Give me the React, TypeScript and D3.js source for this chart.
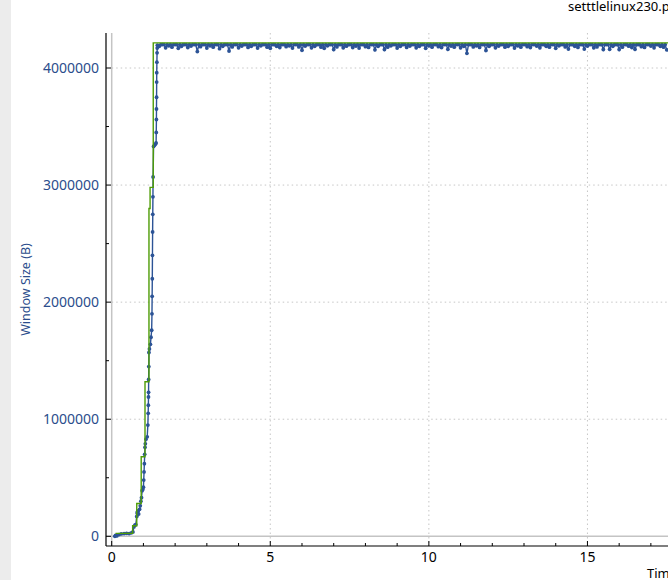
import React from "react";
import * as d3 from "d3";

// ---- data ----
const title = "setttlelinux230.pcapng";
const xLabel = "Time (s)";
const yLabel = "Window Size (B)";
const xTicksMajor = [0, 5, 10, 15];
const yTicksMajor = [0, 1000000, 2000000, 3000000, 4000000];

// bytes-out (blue) ramp phase
const rampTimes = [
  0.10, 0.12, 0.16, 0.23, 0.30, 0.39, 0.47, 0.55, 0.62, 0.67, 0.70, 0.73, 0.76, 0.79, 0.80, 0.82,
  0.85, 0.88, 0.90, 0.92, 0.94, 0.96, 0.98, 1.00, 1.01, 1.02, 1.03, 1.04, 1.05, 1.06, 1.08, 1.12,
  1.14, 1.15, 1.155, 1.16, 1.162, 1.165, 1.17, 1.175, 1.19, 1.22, 1.24, 1.26, 1.27, 1.275, 1.28,
  1.285, 1.29, 1.295, 1.30, 1.305, 1.32, 1.35, 1.38, 1.40, 1.405, 1.41, 1.412, 1.415, 1.418, 1.42,
  1.425, 1.43, 1.435, 1.44,
];
const rampValues = [
  0, 8000, 3000, 15000, 20000, 23000, 25000, 23000, 30000, 37000, 80000, 95000, 100000, 170000,
  200000, 215000, 190000, 230000, 260000, 300000, 330000, 390000, 400000, 420000, 480000, 550000,
  620000, 700000, 760000, 790000, 830000, 850000, 950000, 1050000, 1120000, 1190000, 1230000,
  1340000, 1450000, 1570000, 1600000, 1640000, 1700000, 1760000, 1900000, 2050000, 2200000,
  2400000, 2600000, 2750000, 2900000, 3070000, 3330000, 3340000, 3350000, 3360000, 3450000,
  3560000, 3650000, 3750000, 3880000, 3960000, 4050000, 4130000, 4170000, 4195000,
];

// plateau phase: one sample every 0.05 s starting at 1.5 s
const plateauStart = 1.5;
const plateauStep = 0.05;
const plateauValues = [
  4185000, 4200000, 4200000, 4200000, 4172000, 4200000, 4190000, 4200000, 4178000, 4200000, 4200000, 4200000, 4168000, 4200000, 4185000, 4200000, 4200000, 4200000, 4175000, 4200000,
  4188000, 4200000, 4200000, 4200000, 4140000, 4200000, 4182000, 4200000, 4200000, 4200000, 4170000, 4200000, 4190000, 4200000, 4178000, 4200000, 4200000, 4200000, 4165000, 4200000,
  4185000, 4200000, 4200000, 4200000, 4145000, 4200000, 4180000, 4200000, 4200000, 4200000, 4172000, 4200000, 4188000, 4200000, 4200000, 4200000, 4176000, 4200000, 4185000, 4200000,
  4200000, 4200000, 4170000, 4200000, 4190000, 4200000, 4200000, 4200000, 4178000, 4200000, 4168000, 4200000, 4200000, 4200000, 4185000, 4200000, 4175000, 4200000, 4200000, 4200000,
  4182000, 4200000, 4190000, 4200000, 4170000, 4200000, 4200000, 4200000, 4180000, 4200000, 4152000, 4200000, 4188000, 4200000, 4200000, 4200000, 4172000, 4200000, 4185000, 4200000,
  4200000, 4200000, 4178000, 4200000, 4168000, 4200000, 4190000, 4200000, 4200000, 4200000, 4158000, 4200000, 4180000, 4200000, 4200000, 4200000, 4172000, 4200000, 4186000, 4200000,
  4200000, 4200000, 4175000, 4200000, 4188000, 4200000, 4170000, 4200000, 4200000, 4200000, 4182000, 4200000, 4176000, 4200000, 4200000, 4200000, 4155000, 4200000, 4185000, 4200000,
  4200000, 4200000, 4158000, 4200000, 4178000, 4200000, 4190000, 4200000, 4200000, 4200000, 4170000, 4200000, 4185000, 4200000, 4200000, 4200000, 4176000, 4200000, 4188000, 4200000,
  4200000, 4200000, 4172000, 4200000, 4185000, 4200000, 4200000, 4200000, 4168000, 4200000, 4190000, 4200000, 4178000, 4200000, 4200000, 4200000, 4182000, 4200000, 4175000, 4200000,
  4200000, 4200000, 4160000, 4200000, 4188000, 4200000, 4178000, 4200000, 4200000, 4200000, 4172000, 4200000, 4185000, 4200000, 4125000, 4200000, 4200000, 4200000, 4180000, 4200000,
  4190000, 4200000, 4176000, 4200000, 4200000, 4200000, 4150000, 4200000, 4185000, 4200000, 4200000, 4200000, 4172000, 4200000, 4188000, 4200000, 4200000, 4200000, 4178000, 4200000,
  4185000, 4200000, 4200000, 4200000, 4170000, 4200000, 4190000, 4200000, 4178000, 4200000, 4200000, 4200000, 4182000, 4200000, 4175000, 4200000, 4200000, 4200000, 4188000, 4200000,
  4172000, 4200000, 4200000, 4200000, 4185000, 4200000, 4178000, 4200000, 4200000, 4200000, 4168000, 4200000, 4190000, 4200000, 4200000, 4200000, 4180000, 4200000, 4162000, 4200000,
  4200000, 4200000, 4185000, 4200000, 4176000, 4200000, 4200000, 4200000, 4162000, 4200000, 4188000, 4200000, 4200000, 4200000, 4172000, 4200000, 4180000, 4200000, 4200000, 4200000,
  4158000, 4200000, 4200000, 4200000, 4160000, 4200000, 4185000, 4200000, 4200000, 4200000, 4158000, 4200000, 4178000, 4200000, 4200000, 4200000, 4186000, 4200000, 4175000, 4200000,
  4160000, 4200000, 4200000, 4200000, 4182000, 4200000, 4176000, 4200000, 4200000, 4200000, 4188000, 4200000, 4172000, 4200000, 4200000, 4200000, 4185000, 4200000, 4178000, 4200000,
  4155000,
];

// receive window (green step line)
const rwinTimes = [0.12, 0.66, 0.79, 0.93, 1.05, 1.175, 1.21, 1.31, 17.6];
const rwinValues = [25000, 90000, 280000, 680000, 1320000, 2800000, 2980000, 4215000, 4215000];

// ---- style ----
const BLUE = "#2c5396";
const GREEN = "#4e9c06";
const LABEL_BLUE = "#2b4d8c";
const GRID = "#c6c6c6";
const FONT = "'Noto Sans', 'DejaVu Sans', sans-serif";

export default function App() {
  const W = 668, H = 580;
  const left = 106, right = 668, top = 33, bottom = 546;

  const x = d3.scaleLinear().domain([0, 17.54]).range([111.7, 668]);
  const y = d3.scaleLinear().domain([0, 4000000]).range([536.3, 68]);

  const blue: [number, number][] = [
    ...rampTimes.map((t, i) => [t, rampValues[i]] as [number, number]),
    ...plateauValues.map((v, i) => [plateauStart + i * plateauStep, v] as [number, number]),
  ];
  const green: [number, number][] = rwinTimes.map((t, i) => [t, rwinValues[i]]);

  const line = d3.line<[number, number]>().x(d => x(d[0])).y(d => y(d[1]));
  const stepLine = d3
    .line<[number, number]>()
    .x(d => x(d[0]))
    .y(d => y(d[1]))
    .curve(d3.curveStepAfter);

  const xMinor = d3.range(0, 18, 1);
  const yMinor = d3.range(0, 4300000, 500000);

  return (
    <svg
      width={W}
      height={H}
      style={{ position: "absolute", left: 0, top: 0, background: "#fff", display: "block" }}
      fontFamily={FONT}
    >
      <defs>
        <clipPath id="plot">
          <rect x={left} y={top} width={right - left} height={bottom - top} />
        </clipPath>
      </defs>
      <rect x={0} y={0} width={11} height={H} fill="#ececec" />

      {/* title */}
      <text x={568} y={11} fontSize={13} fill="#000">{title}</text>

      {/* grid */}
      {xTicksMajor.filter(t => t > 0).map(t => (
        <line key={"gx" + t} x1={x(t)} x2={x(t)} y1={top} y2={bottom} stroke={GRID} strokeDasharray="1.5 3" />
      ))}
      {yTicksMajor.filter(v => v > 0).map(v => (
        <line key={"gy" + v} x1={x(0)} x2={right} y1={y(v)} y2={y(v)} stroke={GRID} strokeDasharray="1.5 3" />
      ))}
      <line x1={x(0)} x2={x(0)} y1={top} y2={bottom} stroke="#c4c4c4" strokeWidth={1.5} />
      <line x1={left} x2={right} y1={y(0)} y2={y(0)} stroke="#c4c4c4" strokeWidth={1.5} />

      {/* data */}
      <g clipPath="url(#plot)">
        <path d={line(blue) || ""} fill="none" stroke={BLUE} strokeWidth={1.4} />
        {blue.map((d, i) => (
          <circle key={i} cx={x(d[0])} cy={y(d[1])} r={1.9} fill={BLUE} />
        ))}
        <path d={stepLine(green) || ""} fill="none" stroke={GREEN} strokeWidth={1.4} />
      </g>

      {/* axes */}
      <line x1={left} x2={left} y1={top} y2={bottom} stroke="#000" strokeWidth={1.2} />
      <line x1={left} x2={right} y1={bottom} y2={bottom} stroke="#000" strokeWidth={1.2} />
      {yMinor.map(v => {
        const major = v % 1000000 === 0;
        return <line key={"ty" + v} x1={left} x2={left + (major ? 5 : 3)} y1={y(v)} y2={y(v)} stroke="#000" />;
      })}
      {xMinor.map(t => {
        const major = t % 5 === 0;
        return <line key={"tx" + t} x1={x(t)} x2={x(t)} y1={bottom} y2={bottom - (major ? 5 : 3)} stroke="#000" />;
      })}
      {yTicksMajor.map(v => (
        <text key={"ly" + v} x={99} y={y(v)} dy="0.35em" textAnchor="end" fontSize={14} fill={LABEL_BLUE}>
          {String(v)}
        </text>
      ))}
      {xTicksMajor.map(t => (
        <text key={"lx" + t} x={x(t)} y={562} textAnchor="middle" fontSize={14} fill="#000">
          {String(t)}
        </text>
      ))}
      <text
        transform={`translate(30,${(top + bottom) / 2}) rotate(-90)`}
        textAnchor="middle"
        fontSize={12.5}
        fill={LABEL_BLUE}
      >
        {yLabel}
      </text>
      <text x={647} y={578} fontSize={13} fill="#000">{xLabel}</text>
    </svg>
  );
}
